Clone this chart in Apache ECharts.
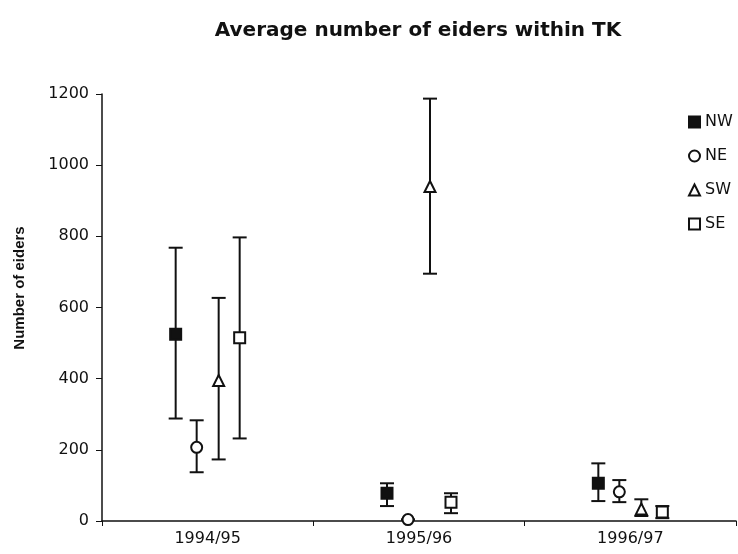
<!DOCTYPE html>
<html>
<head>
<meta charset="utf-8">
<script src="https://cdn.jsdelivr.net/npm/echarts@6/dist/echarts.min.js"></script>
<style>
  html, body { margin: 0; padding: 0; background: #fff; }
  #chart { width: 738px; height: 554px; }
</style>
</head>
<body>
<div id="chart"></div>
<script>
// seasons on the x axis
var seasons = ['1994/95', '1995/96', '1996/97'];
var yTicks = [0, 200, 400, 600, 800, 1000, 1200];

// mean and error range per area, one value per season
var nwMean = [525, 78, 106];
var nwLow = [288, 42, 56];
var nwHigh = [768, 106, 162];

var neMean = [207, 4, 82];
var neLow = [137, 4, 53];
var neHigh = [283, 4, 115];

var swMean = [395, 940, 34];
var swLow = [173, 695, 14];
var swHigh = [627, 1187, 61];

var seMean = [515, 53, 25];
var seLow = [232, 22, 8];
var seHigh = [797, 78, 42];

var ink = '#111';
var tickFont = 'DejaVu Sans';

// name, means, lows, highs, symbol, fill, pixel shift inside the season slot
var areas = [
  ['NW', nwMean, nwLow, nwHigh, 'rect', ink, -32],
  ['NE', neMean, neLow, neHigh, 'circle', '#fff', -11],
  ['SW', swMean, swLow, swHigh, 'triangle', '#fff', 11],
  ['SE', seMean, seLow, seHigh, 'rect', '#fff', 32]
];

function errorBars(shift) {
  return function (params, api) {
    var idx = api.value(0);
    var lo = api.coord([idx, api.value(1)]);
    var hi = api.coord([idx, api.value(2)]);
    var x = lo[0] + shift;
    var st = { stroke: ink, lineWidth: 2 };
    return {
      type: 'group',
      children: [
        { type: 'line', shape: { x1: x, y1: lo[1], x2: x, y2: hi[1] }, style: st },
        { type: 'line', shape: { x1: x - 7, y1: lo[1], x2: x + 7, y2: lo[1] }, style: st },
        { type: 'line', shape: { x1: x - 7, y1: hi[1], x2: x + 7, y2: hi[1] }, style: st }
      ]
    };
  };
}

var series = [];
areas.forEach(function (a) {
  series.push({
    name: a[0] + ' range',
    type: 'custom',
    renderItem: errorBars(a[6]),
    encode: { x: 0, y: [1, 2] },
    data: seasons.map(function (s, i) { return [i, a[2][i], a[3][i]]; }),
    z: 2,
    silent: true
  });
  series.push({
    name: a[0],
    type: 'scatter',
    symbol: a[4],
    symbolSize: 11,
    symbolOffset: [a[6], 0],
    itemStyle: { color: a[5], borderColor: ink, borderWidth: 2, opacity: 1 },
    data: a[1],
    z: 3
  });
});

var chart = echarts.init(document.getElementById('chart'));
chart.setOption({
  backgroundColor: '#fff',
  animation: false,
  grid: { left: 102, right: 2, top: 94, bottom: 33 },
  legend: {
    data: ['NW', 'NE', 'SW', 'SE'],
    orient: 'vertical',
    left: 683,
    top: 109,
    itemWidth: 11,
    itemHeight: 11,
    itemGap: 18,
    textStyle: { fontFamily: tickFont, fontSize: 16, color: ink }
  },
  xAxis: {
    type: 'category',
    data: seasons,
    boundaryGap: true,
    axisLine: { lineStyle: { color: ink, width: 1.5 } },
    axisTick: { show: true, length: 5, lineStyle: { color: ink } },
    axisLabel: { color: ink, fontFamily: tickFont, fontSize: 16, margin: 10 },
    splitLine: { show: false }
  },
  yAxis: {
    type: 'value',
    min: yTicks[0],
    max: yTicks[yTicks.length - 1],
    interval: 200,
    axisLine: { show: true, lineStyle: { color: ink, width: 1.5 } },
    axisTick: { show: true, length: 6, lineStyle: { color: ink } },
    axisLabel: {
      color: ink, fontFamily: tickFont, fontSize: 16, margin: 13,
      formatter: function (v) { return String(v); }
    },
    splitLine: { show: false }
  },
  graphic: [
    {
      type: 'text',
      x: 418,
      y: 31,
      style: {
        text: 'Average number of eiders within TK',
        align: 'center',
        verticalAlign: 'middle',
        fontFamily: 'DejaVu Sans',
        fontWeight: 'bold',
        fontSize: 20,
        fill: ink
      }
    },
    {
      type: 'text',
      x: 20,
      y: 288,
      rotation: Math.PI / 2,
      style: {
        text: 'Number of eiders',
        align: 'center',
        verticalAlign: 'middle',
        fontFamily: 'Liberation Sans',
        fontWeight: 'bold',
        fontSize: 15,
        fill: ink
      }
    }
  ],
  series: series
});
</script>
</body>
</html>
